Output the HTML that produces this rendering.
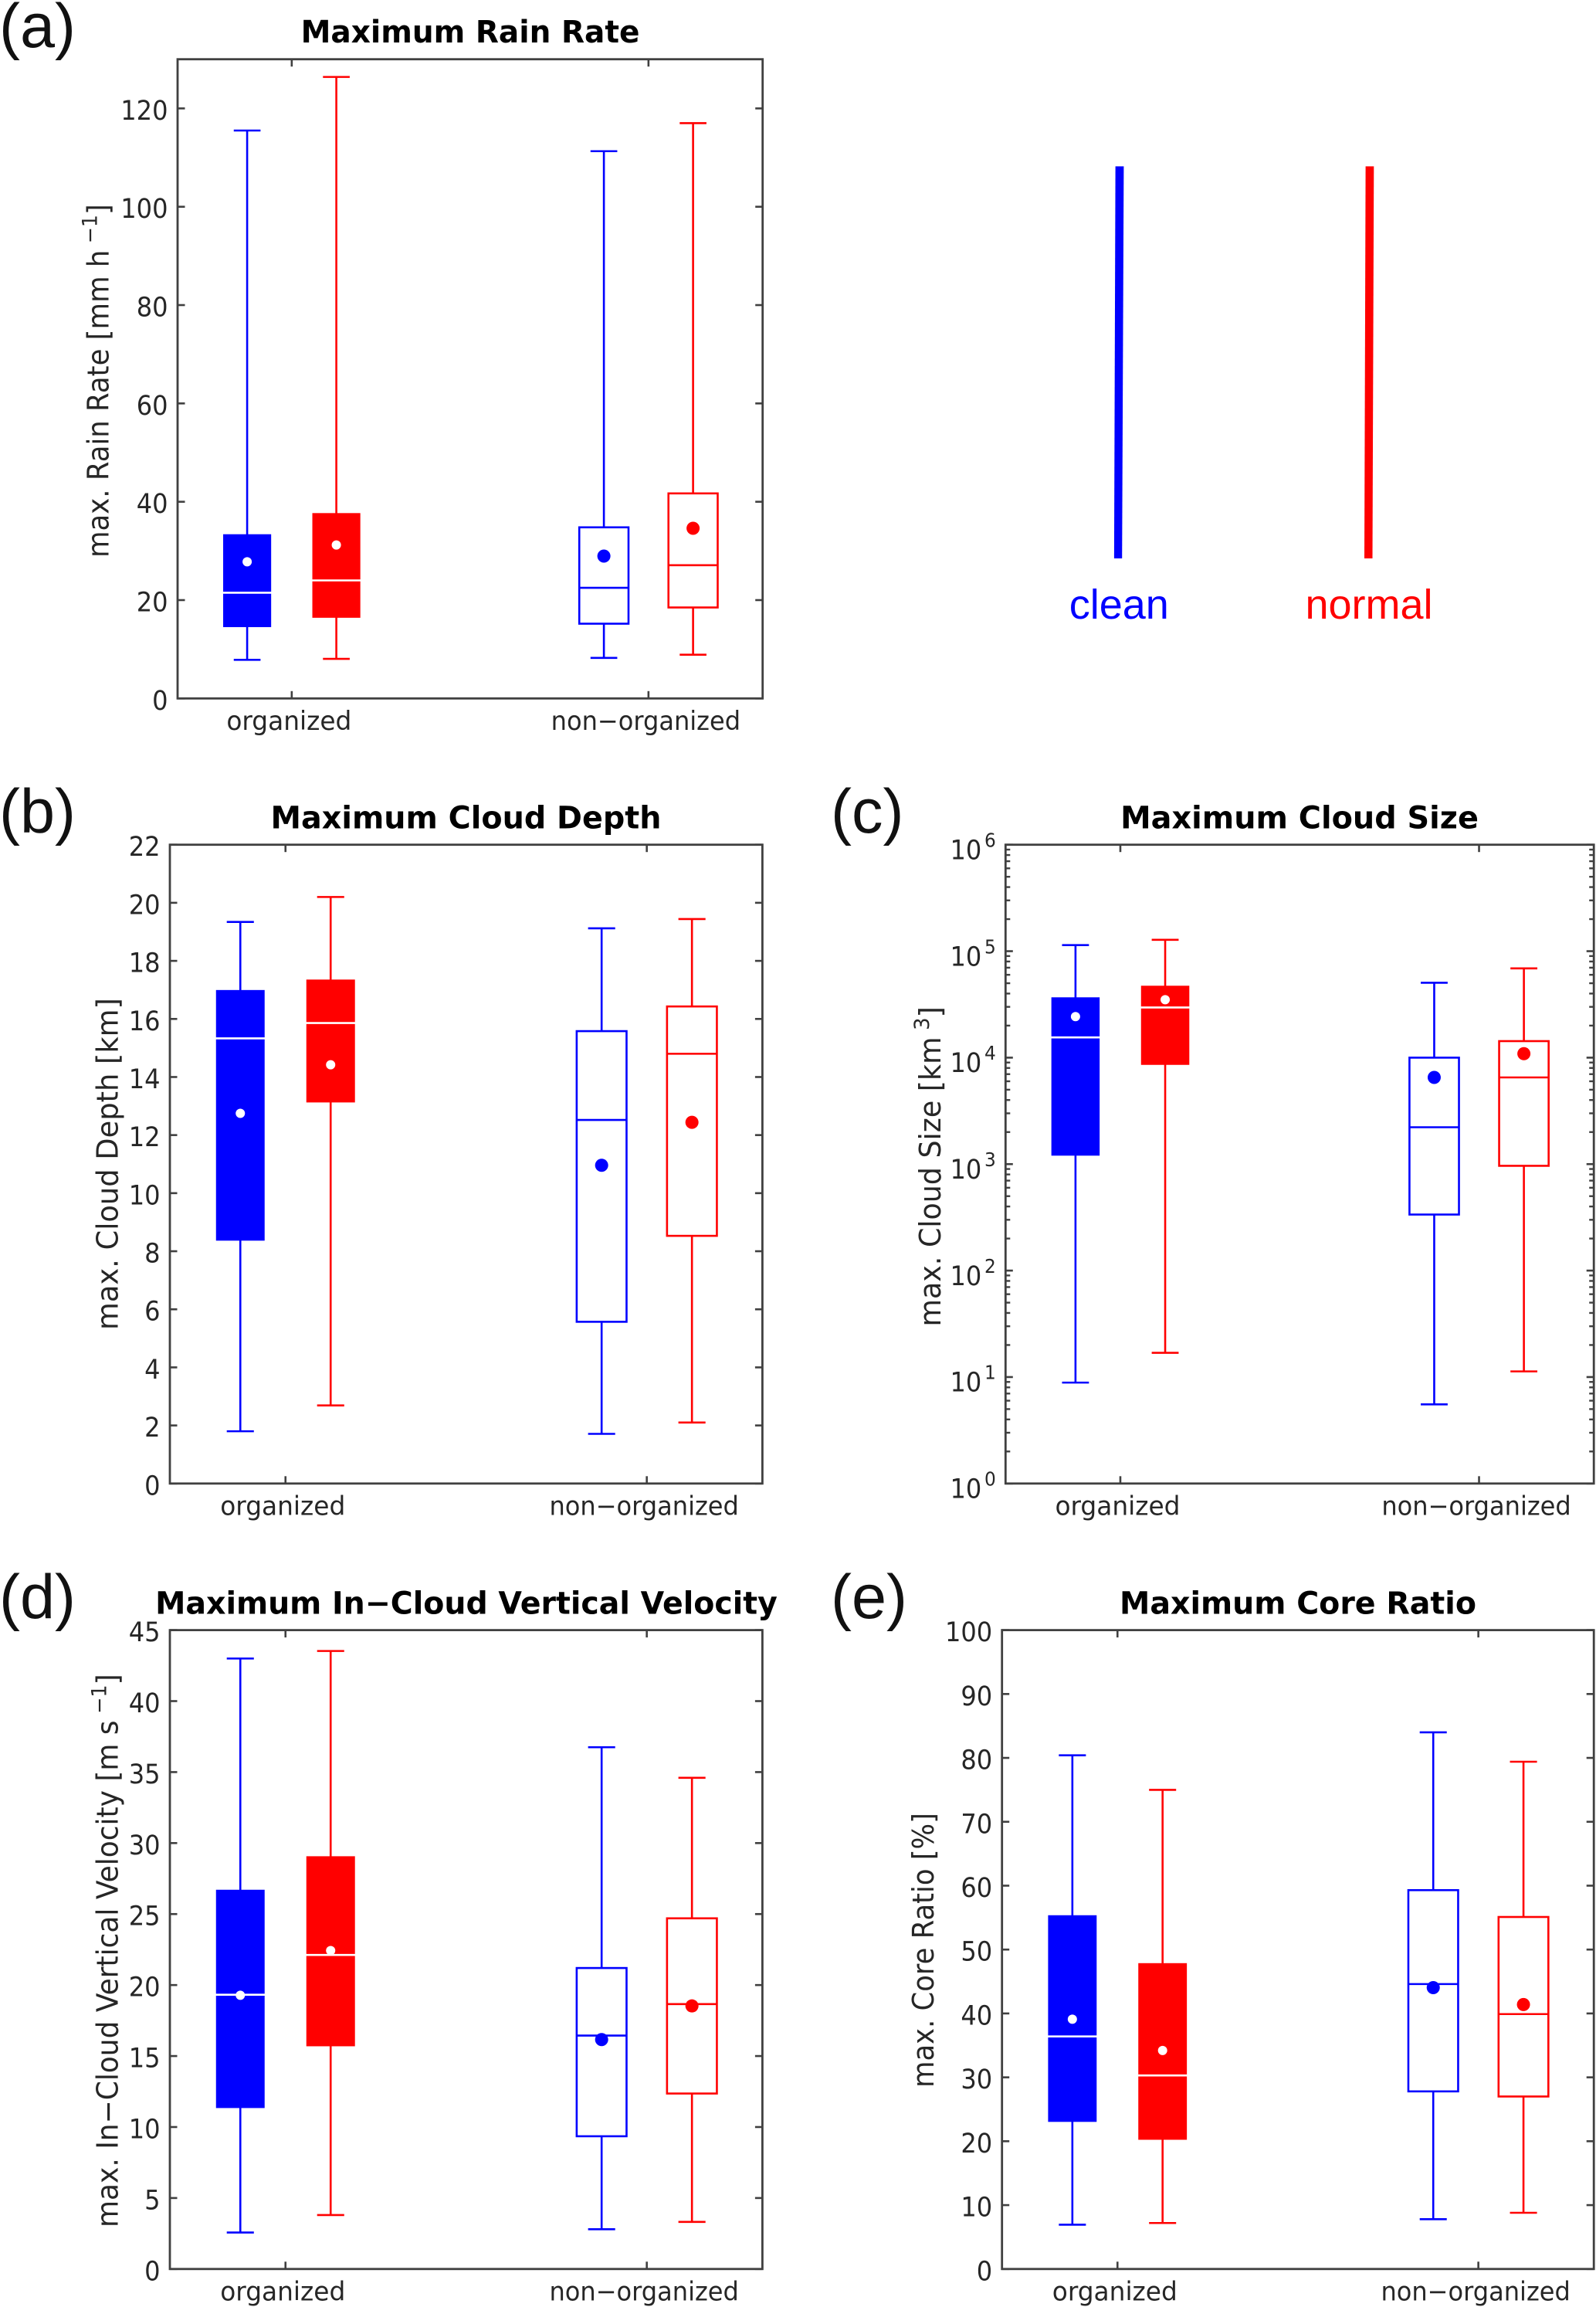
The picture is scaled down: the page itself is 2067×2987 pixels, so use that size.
<!DOCTYPE html>
<html lang="en">
<head>
<meta charset="utf-8">
<title>Maximum rain, cloud and core statistics: clean vs normal</title>
<style>
html,body{margin:0;padding:0;background:#fff;}
svg{display:block;}
text{font-family:"DejaVu Sans","Liberation Sans",sans-serif;fill:#262626;}
.title{font-weight:bold;font-size:40px;fill:#000;}
.ylab{font-size:38px;}
.letter{font-family:"Liberation Sans",sans-serif;font-size:81px;fill:#111;}
.leg{font-family:"Liberation Sans",sans-serif;font-size:54px;}
</style>
</head>
<body>
<svg id="figure" xmlns="http://www.w3.org/2000/svg" width="2067" height="2987" viewBox="0 0 2067 2987">
  <rect x="0" y="0" width="2067" height="2987" fill="#fff"/>

  <text class="letter" x="-1" y="61">(a)</text>
  <text class="letter" x="-1" y="1078">(b)</text>
  <text class="letter" x="1076" y="1078">(c)</text>
  <text class="letter" x="-1" y="2095">(d)</text>
  <text class="letter" x="1076" y="2095">(e)</text>

  <text class="title" text-anchor="middle" data-fit="439" data-x="609" data-y="55">Maximum Rain Rate</text>
  <text class="title" text-anchor="middle" data-fit="506" data-x="603.5" data-y="1072.5">Maximum Cloud Depth</text>
  <text class="title" text-anchor="middle" data-fit="464" data-x="1683" data-y="1072.5">Maximum Cloud Size</text>
  <text class="title" text-anchor="middle" data-fit="806" data-x="604" data-y="2089.5">Maximum In−Cloud Vertical Velocity</text>
  <text class="title" text-anchor="middle" data-fit="462" data-x="1681" data-y="2089.5">Maximum Core Ratio</text>

  <text class="ylab" data-fit="458" data-x="140.5" data-y="722" data-rot="-90">max. Rain Rate [mm h<tspan dx="9" dy="-15" font-size="27">−1</tspan><tspan dy="15">]</tspan></text>
  <text class="ylab" data-fit="430" data-x="152.5" data-y="1722" data-rot="-90">max. Cloud Depth [km]</text>
  <text class="ylab" data-fit="414.5" data-x="1218" data-y="1717.5" data-rot="-90">max. Cloud Size [km<tspan dx="9" dy="-15" font-size="27">3</tspan><tspan dy="15">]</tspan></text>
  <text class="ylab" data-fit="717" data-x="152.5" data-y="2884" data-rot="-90">max. In−Cloud Vertical Velocity [m s<tspan dx="9" dy="-15" font-size="27">−1</tspan><tspan dy="15">]</tspan></text>
  <text class="ylab" data-fit="356" data-x="1209" data-y="2703" data-rot="-90">max. Core Ratio [%]</text>

  <g>
    <polygon points="1444.6,215.4 1455.4,215.4 1453.2,723 1442.9,723" fill="#0000ff"/>
    <polygon points="1768.6,215.4 1779.3,215.4 1777.5,723 1767,723" fill="#ff0000"/>
    <text class="leg" x="1449.3" y="801" text-anchor="middle" style="fill:#0000ff">clean</text>
    <text class="leg" x="1773" y="801" text-anchor="middle" style="fill:#ff0000">normal</text>
  </g>
</svg>
<script>
// Category and series names. Every stat array below is ordered:
// clean/organized, normal/organized, clean/non-organized, normal/non-organized
const categories = ['organized', 'non−organized'];
const seriesNames = ['clean', 'normal'];

// (a) Maximum Rain Rate [mm/h]
const rainTicks = [0, 20, 40, 60, 80, 100, 120];
const rainHigh = [115.5, 126.4, 111.3, 117.0];
const rainQ3 = [33.3, 37.6, 34.8, 41.7];
const rainMedian = [21.5, 24.0, 22.5, 27.1];
const rainQ1 = [14.6, 16.5, 15.2, 18.5];
const rainLow = [7.85, 8.05, 8.25, 8.9];
const rainMean = [27.8, 31.2, 28.95, 34.6];

// (b) Maximum Cloud Depth [km]
const depthTicks = [0, 2, 4, 6, 8, 10, 12, 14, 16, 18, 20, 22];
const depthHigh = [19.34, 20.2, 19.12, 19.44];
const depthQ3 = [16.98, 17.34, 15.58, 16.43];
const depthMedian = [15.33, 15.86, 12.52, 14.8];
const depthQ1 = [8.38, 13.14, 5.57, 8.53];
const depthLow = [1.8, 2.69, 1.71, 2.1];
const depthMean = [12.75, 14.42, 10.96, 12.44];

// (c) Maximum Cloud Size [km^3]
const sizeTicks = [1, 10, 100, 1000, 10000, 100000, 1000000];
const sizeHigh = [114000, 128000, 50500, 69000];
const sizeQ3 = [36500, 46900, 10000, 14300];
const sizeMedian = [15500, 29600, 2220, 6520];
const sizeQ1 = [1213, 8640, 336, 964];
const sizeLow = [8.87, 16.9, 5.54, 11.3];
const sizeMean = [24300, 35000, 6520, 10900];

// (d) Maximum In-Cloud Vertical Velocity [m/s]
const velocityTicks = [0, 5, 10, 15, 20, 25, 30, 35, 40, 45];
const velocityHigh = [43.0, 43.53, 36.75, 34.6];
const velocityQ3 = [26.68, 29.04, 21.2, 24.7];
const velocityMedian = [19.32, 22.12, 16.44, 18.66];
const velocityQ1 = [11.37, 15.72, 9.35, 12.36];
const velocityLow = [2.57, 3.8, 2.8, 3.32];
const velocityMean = [19.28, 22.43, 16.16, 18.53];

// (e) Maximum Core Ratio [%]
const coreTicks = [0, 10, 20, 30, 40, 50, 60, 70, 80, 90, 100];
const coreHigh = [80.4, 75.0, 84.0, 79.4];
const coreQ3 = [55.3, 47.8, 59.3, 55.1];
const coreMedian = [36.4, 30.3, 44.6, 39.9];
const coreQ1 = [23.1, 20.3, 27.8, 27.0];
const coreLow = [6.93, 7.2, 7.8, 8.8];
const coreMean = [39.1, 34.2, 44.04, 41.4];

const SVGNS = 'http://www.w3.org/2000/svg';
const figure = document.getElementById('figure');
const COLORS = ['#0000ff', '#ff0000'];
const AXIS = '#404040';
const XLIM = [0.68, 2.32];
const OFFSET = 0.125;
const BOX_W = 0.138;
const CAP_W = 0.075;

function svgEl(tag, parent, attrs) {
  const el = document.createElementNS(SVGNS, tag);
  for (const k in attrs) el.setAttribute(k, attrs[k]);
  parent.appendChild(el);
  return el;
}
function seg(parent, x1, y1, x2, y2, color, w) {
  return svgEl('line', parent, {x1: x1, y1: y1, x2: x2, y2: y2, stroke: color, 'stroke-width': w});
}
function label(parent, str, x, y, anchor, size, sx) {
  const t = svgEl('text', parent, {transform: 'translate(' + x + ',' + y + ') scale(' + sx + ',1)', 'text-anchor': anchor, 'font-size': size});
  t.textContent = str;
  return t;
}

function drawPanel(p) {
  const g = svgEl('g', figure, {});
  
  

  const x = function (v) { return p.l + (v - XLIM[0]) / (XLIM[1] - XLIM[0]) * (p.r - p.l); };
  const lo = p.log ? Math.log10(p.ymin) : p.ymin;
  const hi = p.log ? Math.log10(p.ymax) : p.ymax;
  const y = function (v) {
    const u = p.log ? Math.log10(v) : v;
    return p.b - (u - lo) / (hi - lo) * (p.b - p.t);
  };

  // Minor ticks on log axis
  if (p.log) {
    for (let d = lo; d < hi; d++) {
      for (let m = 2; m <= 9; m++) {
        const yy = y(m * Math.pow(10, d));
        const ml = seg(g, p.l, yy, p.l + 6, yy, AXIS, 2.4);
        
        
        const mr = seg(g, p.r, yy, p.r - 6, yy, AXIS, 2.4);
        
        
      }
    }
  }

  // Y ticks and labels
  p.ticks.forEach(function (tv) {
    const yy = y(tv);
    const tl = seg(g, p.l, yy, p.l + 9.5, yy, AXIS, 2.6);
    
    
    const tr = seg(g, p.r, yy, p.r - 9.5, yy, AXIS, 2.6);
    
    
    if (p.log) {
      const base = label(g, '10', p.l - 31, yy + 18.7, 'end', 34.5, 0.93);
      
      
      const sup = label(g, String(Math.round(Math.log10(tv))), p.l - 12.5, yy + 2.7, 'end', 25, 0.93);
      
      
    } else {
      const lab = label(g, String(tv), p.l - 12.5, yy + 14.5, 'end', 34.5, 0.93);
      
      
    }
  });

  // X ticks and labels
  categories.forEach(function (c, i) {
    const xx = x(i + 1);
    const tb = seg(g, xx, p.b, xx, p.b - 9.5, AXIS, 2.6);
    
    
    const tt = seg(g, xx, p.t, xx, p.t + 9.5, AXIS, 2.6);
    
    
    const lab = label(g, c, xx - 3.5, p.b + 40.5, 'middle', 34, i === 0 ? 0.965 : 0.943);
    
    
  });

  // Boxes
  p.high.forEach(function (_, k) {
    const cat = k < 2 ? 0 : 1;
    const ser = k % 2;
    const color = COLORS[ser];
    const solid = cat === 0;
    const cx = x(cat + 1 + (ser === 0 ? -OFFSET : OFFSET));
    const hw = x(XLIM[0] + BOX_W / 2) - p.l;
    const cw = x(XLIM[0] + CAP_W / 2) - p.l;
    const box = svgEl('g', g, {});
    
    

    const wu = seg(box, cx, y(p.high[k]), cx, y(p.q3[k]), color, 2.6);
    
    
    const wl = seg(box, cx, y(p.q1[k]), cx, y(p.low[k]), color, 2.6);
    
    
    const cu = seg(box, cx - cw, y(p.high[k]), cx + cw, y(p.high[k]), color, 2.6);
    
    
    const cl = seg(box, cx - cw, y(p.low[k]), cx + cw, y(p.low[k]), color, 2.6);
    
    

    const yTop = y(p.q3[k]);
    const yBot = y(p.q1[k]);
    const rect = solid
      ? svgEl('rect', box, {x: cx - hw + 0.8, y: yTop - 0.6, width: 2 * hw - 1.6, height: yBot - yTop + 1.2, fill: color})
      : svgEl('rect', box, {x: cx - hw, y: yTop, width: 2 * hw, height: yBot - yTop, fill: 'none', stroke: color, 'stroke-width': 2.6});
    
    

    const med = seg(box, cx - hw, y(p.median[k]), cx + hw, y(p.median[k]), solid ? '#ffffff' : color, 2.6);
    
    

    const dot = svgEl('circle', box, {cx: cx, cy: y(p.mean[k]), r: solid ? 6 : 8.5, fill: solid ? '#ffffff' : color});
    
    
  });

  // Axes frame
  const frame = svgEl('rect', g, {x: p.l, y: p.t, width: p.r - p.l, height: p.b - p.t, fill: 'none', stroke: AXIS, 'stroke-width': 2.8});
  
  
}

drawPanel({id: 'rain-rate', l: 230, r: 987.7, t: 76.7, b: 904.3, ymin: 0, ymax: 130, log: false,
  ticks: rainTicks, high: rainHigh, q3: rainQ3, median: rainMedian, q1: rainQ1, low: rainLow, mean: rainMean});
drawPanel({id: 'cloud-depth', l: 220, r: 987.4, t: 1093.7, b: 1920.8, ymin: 0, ymax: 22, log: false,
  ticks: depthTicks, high: depthHigh, q3: depthQ3, median: depthMedian, q1: depthQ1, low: depthLow, mean: depthMean});
drawPanel({id: 'cloud-size', l: 1302.3, r: 2064.2, t: 1093.7, b: 1920.8, ymin: 1, ymax: 1000000, log: true,
  ticks: sizeTicks, high: sizeHigh, q3: sizeQ3, median: sizeMedian, q1: sizeQ1, low: sizeLow, mean: sizeMean});
drawPanel({id: 'vertical-velocity', l: 220, r: 987.4, t: 2110.6, b: 2937.8, ymin: 0, ymax: 45, log: false,
  ticks: velocityTicks, high: velocityHigh, q3: velocityQ3, median: velocityMedian, q1: velocityQ1, low: velocityLow, mean: velocityMean});
drawPanel({id: 'core-ratio', l: 1297.7, r: 2064.2, t: 2110.6, b: 2937.8, ymin: 0, ymax: 100, log: false,
  ticks: coreTicks, high: coreHigh, q3: coreQ3, median: coreMedian, q1: coreQ1, low: coreLow, mean: coreMean});

// Fit titles and axis titles to their measured widths in the figure
document.querySelectorAll('[data-fit]').forEach(function (el) {
  const w = el.getBBox().width;
  const s = parseFloat(el.getAttribute('data-fit')) / w;
  const rot = el.getAttribute('data-rot') || '0';
  el.setAttribute('transform', 'translate(' + el.getAttribute('data-x') + ',' + el.getAttribute('data-y') + ') rotate(' + rot + ') scale(' + s + ',1)');
});
</script>
</body>
</html>
